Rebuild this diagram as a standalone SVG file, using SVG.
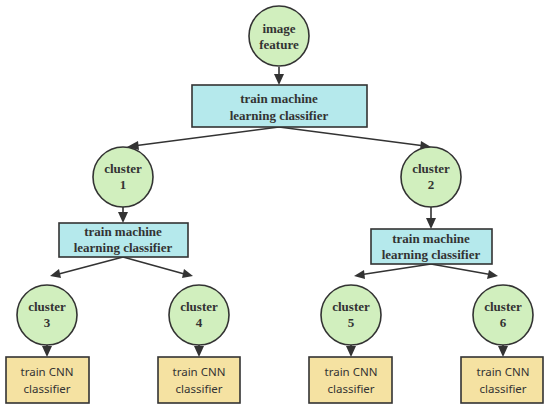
<svg xmlns="http://www.w3.org/2000/svg" width="550" height="411" viewBox="0 0 550 411">
<defs>
<style>
.c{fill:#d1efbe;stroke:#333;stroke-width:1.6}
.m{fill:#b5e9ec;stroke:#333;stroke-width:1.6}
.t{fill:#f5e2a2;stroke:#333;stroke-width:1.6}
.b{font-family:"Liberation Serif",serif;font-weight:bold;font-size:13px;fill:#333;text-anchor:middle}
.s{font-family:"Noto Sans","Liberation Sans",sans-serif;font-size:11.5px;fill:#333;text-anchor:middle}
.e{stroke:#333;stroke-width:1.6;fill:none}
.h{fill:#333}
</style>
</defs>
<rect width="550" height="411" fill="#fff"/>
<g id="edges">
<path class="e" d="M279,67 L279,80"/>
<path class="h" d="M279,85 L274,74 L284,74 Z"/>
<path class="e" d="M279,127 L133,146"/>
<path class="h" d="M127,147 L138,141 L139,150 Z"/>
<path class="e" d="M279,127 L425,146"/>
<path class="h" d="M431,147 L420,150 L421,141 Z"/>
<path class="e" d="M123,207 L123,218"/>
<path class="h" d="M123,223 L118,212 L128,212 Z"/>
<path class="e" d="M431,207 L431,224"/>
<path class="h" d="M431,229 L426,218 L436,218 Z"/>
<path class="e" d="M123,257 L55,275"/>
<path class="h" d="M50,276 L59,269 L61,278 Z"/>
<path class="e" d="M123,257 L188,275"/>
<path class="h" d="M193,276 L182,278 L184,269 Z"/>
<path class="e" d="M431,264 L359,275"/>
<path class="h" d="M354,276 L364,270 L365,279 Z"/>
<path class="e" d="M431,264 L493,275"/>
<path class="h" d="M498,276 L487,279 L489,270 Z"/>
<path class="e" d="M47,345 L47,352"/>
<path class="h" d="M47,357 L42,346 L52,346 Z"/>
<path class="e" d="M199,345 L199,352"/>
<path class="h" d="M199,357 L194,346 L204,346 Z"/>
<path class="e" d="M351,345 L351,352"/>
<path class="h" d="M351,357 L346,346 L356,346 Z"/>
<path class="e" d="M503,345 L503,352"/>
<path class="h" d="M503,357 L498,346 L508,346 Z"/>
</g>
<g id="image-feature">
<circle class="c" cx="279" cy="36" r="30"/>
<text class="b" x="279" y="33">image</text>
<text class="b" x="279" y="49">feature</text>
</g>
<g id="ml1">
<rect class="m" x="192" y="85" width="175" height="42"/>
<text class="b" x="279" y="103">train machine</text>
<text class="b" x="279" y="120">learning classifier</text>
</g>
<g id="cluster1">
<circle class="c" cx="123" cy="177" r="30"/>
<text class="b" x="123" y="173">cluster</text>
<text class="b" x="123" y="189">1</text>
</g>
<g id="cluster2">
<circle class="c" cx="431" cy="177" r="30"/>
<text class="b" x="431" y="173">cluster</text>
<text class="b" x="431" y="189">2</text>
</g>
<g id="ml2">
<rect class="m" x="59" y="223" width="129" height="34"/>
<text class="b" x="123" y="236">train machine</text>
<text class="b" x="123" y="252">learning classifier</text>
</g>
<g id="ml3">
<rect class="m" x="371" y="229" width="121" height="35"/>
<text class="b" x="431" y="243">train machine</text>
<text class="b" x="431" y="259">learning classifier</text>
</g>
<g id="cluster3">
<circle class="c" cx="47" cy="315" r="30"/>
<text class="b" x="47" y="311">cluster</text>
<text class="b" x="47" y="327">3</text>
</g>
<g id="cluster4">
<circle class="c" cx="199" cy="315" r="30"/>
<text class="b" x="199" y="311">cluster</text>
<text class="b" x="199" y="327">4</text>
</g>
<g id="cluster5">
<circle class="c" cx="351" cy="315" r="30"/>
<text class="b" x="351" y="311">cluster</text>
<text class="b" x="351" y="327">5</text>
</g>
<g id="cluster6">
<circle class="c" cx="503" cy="315" r="30"/>
<text class="b" x="503" y="311">cluster</text>
<text class="b" x="503" y="327">6</text>
</g>
<g id="cnn1">
<rect class="t" x="6" y="357" width="83" height="46"/>
<text class="s" x="47" y="376">train CNN</text>
<text class="s" x="47" y="393">classifier</text>
</g>
<g id="cnn2">
<rect class="t" x="158" y="357" width="82" height="46"/>
<text class="s" x="199" y="376">train CNN</text>
<text class="s" x="199" y="393">classifier</text>
</g>
<g id="cnn3">
<rect class="t" x="309" y="357" width="83" height="46"/>
<text class="s" x="351" y="376">train CNN</text>
<text class="s" x="351" y="393">classifier</text>
</g>
<g id="cnn4">
<rect class="t" x="461" y="357" width="82" height="46"/>
<text class="s" x="503" y="376">train CNN</text>
<text class="s" x="503" y="393">classifier</text>
</g>
</svg>
